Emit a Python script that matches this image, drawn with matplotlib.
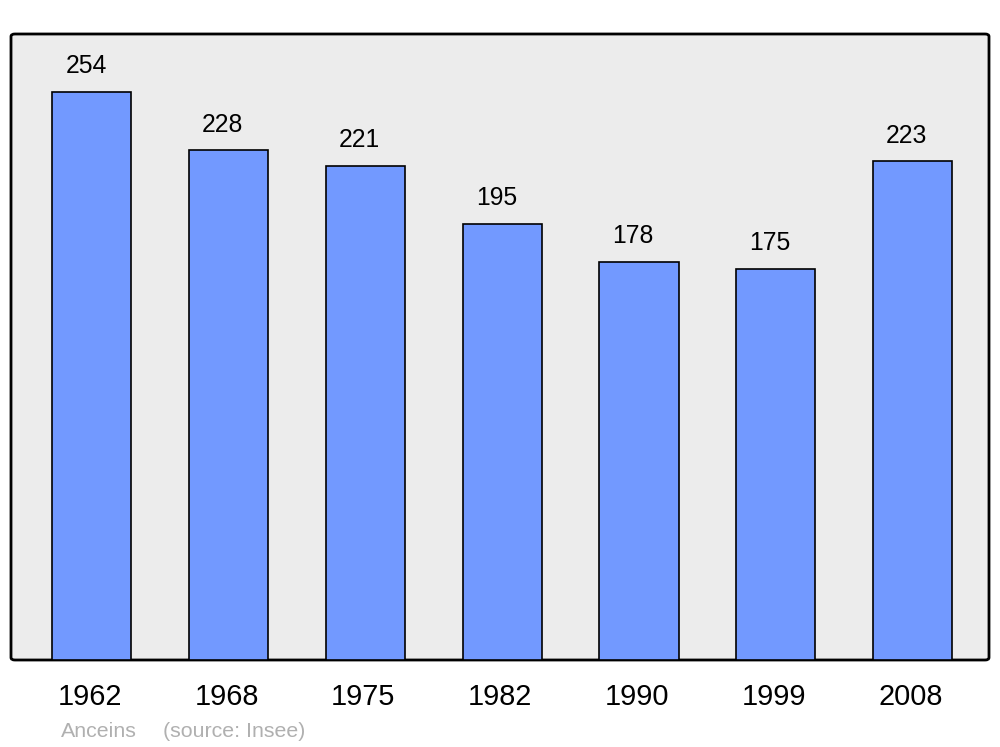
import matplotlib
matplotlib.use("Agg")
import matplotlib.pyplot as plt
from matplotlib.patches import FancyBboxPatch

years = ["1962", "1968", "1975", "1982", "1990", "1999", "2008"]
population = [254, 228, 221, 195, 178, 175, 223]
commune = "Anceins"
source = "(source: Insee)"

plt.rcParams['font.family'] = ['Liberation Sans', 'DejaVu Sans']

fig = plt.figure(figsize=(10, 7.47), dpi=100)
ax = fig.add_axes([0.011, 87/747, 0.978, 626/747])
ax.set_facecolor('none')
for s in ax.spines.values():
    s.set_visible(False)

frame = FancyBboxPatch((0, 0), 1, 1, boxstyle="round,pad=0,rounding_size=0.004",
                       transform=ax.transAxes, facecolor='#ececec', edgecolor='black',
                       linewidth=2, zorder=0, clip_on=False)
ax.add_patch(frame)

x = list(range(len(years)))
ax.bar(x, population, width=0.578, color='#7299ff', edgecolor='black', linewidth=1.2, zorder=2)
ax.set_xlim(-0.592, 6.559)
ax.set_ylim(0, 280)
ax.set_xticks([])
ax.set_yticks([])

for xi, v in zip(x, population):
    ax.annotate(str(v), xy=(xi, v), xytext=(-4.3, 13.5), textcoords='offset points',
                ha='center', va='baseline', fontsize=17.8, color='black')

for xi, y in zip(x, years):
    ax.annotate(y, xy=(xi, 0), xycoords=('data', 'axes fraction'), xytext=(-1.5, -32.4),
                textcoords='offset points', ha='center', va='baseline', fontsize=20.8, color='black')

fig.text(0.061, 1 - 737/747, commune, ha='left', va='baseline', fontsize=15.4, color='#b0b0b0')
fig.text(0.163, 1 - 737/747, source, ha='left', va='baseline', fontsize=15.4, color='#b0b0b0')

fig.savefig('out.png', dpi=100)
